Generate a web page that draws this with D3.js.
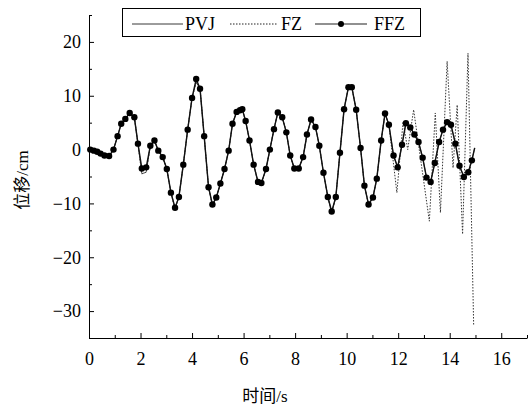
<!DOCTYPE html>
<html>
<head>
<meta charset="utf-8">
<script src="https://cdn.jsdelivr.net/npm/d3@7"></script>
<style>
  body { margin: 0; background: #fff; }
  svg text { font-family: "Liberation Serif", serif; fill: #000; }
  svg tspan.cjk { font-family: "Noto Sans CJK SC", sans-serif; }
</style>
</head>
<body>
<div id="chart"></div>
<script>
// data (time in s, displacement in cm)
var ffzTime = [0.05, 0.19, 0.32, 0.45, 0.6, 0.78, 0.95, 1.11, 1.25, 1.41, 1.58, 1.76, 1.9, 2.05, 2.22,
  2.38, 2.54, 2.69, 2.86, 3.02, 3.18, 3.34, 3.49, 3.66, 3.83, 4.0, 4.16, 4.31, 4.47, 4.64, 4.79, 4.94,
  5.1, 5.26, 5.42, 5.57, 5.73, 5.86, 5.95, 6.08, 6.23, 6.39, 6.56, 6.69, 6.87, 7.02, 7.18, 7.33, 7.5,
  7.66, 7.81, 7.97, 8.14, 8.31, 8.46, 8.62, 8.79, 8.94, 9.1, 9.27, 9.42, 9.58, 9.74, 9.9, 10.07, 10.2,
  10.37, 10.54, 10.69, 10.85, 11.02, 11.17, 11.34, 11.49, 11.64, 11.82, 11.98, 12.15, 12.3, 12.47,
  12.63, 12.79, 12.95, 13.1, 13.26, 13.42, 13.59, 13.74, 13.9, 14.05, 14.22, 14.38, 14.55, 14.72, 14.86];

var ffzValue = [0.0, -0.2, -0.4, -0.75, -1.1, -1.2, 0.0, 2.5, 4.8, 5.7, 6.8, 6.0, 1.1, -3.5, -3.3,
  0.7, 1.7, -0.2, -1.4, -3.6, -8.0, -10.8, -8.8, -2.8, 3.7, 9.6, 13.1, 11.3, 2.5, -7.0, -10.2, -8.9,
  -6.3, -3.6, -0.2, 4.8, 7.0, 7.3, 7.5, 5.3, 1.7, -2.8, -6.0, -6.2, -3.6, 0.0, 3.8, 6.9, 6.0,
  3.2, -1.1, -3.5, -3.5, -1.4, 2.8, 5.6, 4.2, 0.7, -4.3, -8.8, -11.5, -8.8, -0.6, 7.5, 11.6, 11.6,
  7.4, 0.3, -6.7, -10.2, -8.9, -5.4, 1.7, 6.7, 4.6, -1.1, -3.3, 0.9, 4.9, 4.1,
  2.8, 1.4, -1.5, -5.2, -6.0, -2.5, 1.4, 3.7, 5.1, 4.6, 1.1, -3.0, -5.1, -4.2, -2.0];

// last bit of the FFZ line after the final marker
var ffzEndTime = [14.97];
var ffzEndValue = [0.3];

// PVJ runs under FFZ almost everywhere (same sample times)
var pvjValue = [0.0, -0.2, -0.4, -0.75, -1.1, -1.2, 0.0, 2.5, 4.8, 5.7, 6.8, 6.0, 1.1, -4.5, -4.2,
  0.7, 1.7, -0.2, -1.4, -3.6, -8.0, -11.0, -8.8, -2.8, 3.7, 9.6, 12.5, 11.3, 2.5, -7.0, -10.4, -8.9,
  -6.3, -3.6, -0.2, 4.8, 7.0, 7.3, 7.5, 5.3, 1.7, -2.8, -6.0, -6.2, -3.6, 0.0, 3.8, 6.9, 6.0,
  3.2, -1.1, -3.5, -3.5, -1.4, 2.8, 5.6, 4.2, 0.7, -4.3, -8.8, -11.8, -8.8, -0.6, 7.5, 11.6, 11.6,
  7.4, 0.3, -6.7, -10.2, -8.9, -5.4, 1.7, 6.7, 4.6, -1.1, -3.3, 0.9, 4.9, 4.1,
  2.8, 1.4, -1.5, -5.2, -6.0, -2.5, 1.4, 3.7, 5.1, 4.6, 1.1, -3.0, -5.1, -4.2, -2.0];

// FZ follows PVJ up to ~11.6 s, then swings wildly
var fzSplit = 11.64;
var fzTailTime = [11.95, 12.19, 12.37, 12.6, 13.21, 13.44, 13.64, 13.9, 14.13, 14.29, 14.5, 14.71, 14.93];
var fzTailValue = [-8.0, 5.2, 0.0, 7.4, -13.3, 6.8, -11.7, 16.4, -3.4, 8.3, -15.7, 17.9, -32.7];

var xTicks = [0, 2, 4, 6, 8, 10, 12, 14, 16];
var yTicks = [-30, -20, -10, 0, 10, 20];
var xMinor = [1, 3, 5, 7, 9, 11, 13, 15, 17];
var yMinor = [-35, -25, -15, -5, 5, 15, 25];

var seriesNames = ["PVJ", "FZ", "FFZ"];

// setting up SVG
var svgWidth = 529;
var svgHeight = 408;

var plotLeft = 89, plotRight = 527, plotTop = 15, plotBottom = 338;

var svg = d3.select("#chart")
  .append("svg")
  .attr("width", svgWidth)
  .attr("height", svgHeight);

var xScale = d3.scaleLinear().domain([0, 17]).range([plotLeft, plotRight]);
var yScale = d3.scaleLinear().domain([-35, 25]).range([plotBottom, plotTop]);

var fmt = function(d) { return d < 0 ? "\u2212" + Math.abs(d) : String(d); };

// x axis, ticks pointing inward
svg.append("g")
  .attr("transform", `translate(0, ${plotBottom})`)
  .call(d3.axisBottom(xScale).tickValues(xTicks).tickSizeInner(-5).tickSizeOuter(0)
    .tickPadding(14).tickFormat(fmt));

svg.append("g")
  .attr("transform", `translate(0, ${plotBottom})`)
  .call(d3.axisBottom(xScale).tickValues(xMinor).tickSizeInner(-3).tickSizeOuter(0).tickFormat(""))
  .select(".domain").remove();

// y axis
svg.append("g")
  .attr("transform", `translate(${plotLeft}, 0)`)
  .call(d3.axisLeft(yScale).tickValues(yTicks).tickSizeInner(-5).tickSizeOuter(0)
    .tickPadding(8).tickFormat(fmt));

svg.append("g")
  .attr("transform", `translate(${plotLeft}, 0)`)
  .call(d3.axisLeft(yScale).tickValues(yMinor).tickSizeInner(-3).tickSizeOuter(0).tickFormat(""))
  .select(".domain").remove();

svg.selectAll(".tick text")
  .style("font-size", "18px")
  .style("font-family", "'Liberation Serif', serif");
svg.selectAll(".domain, .tick line").attr("stroke", "#000");

// axis titles: CJK part and latin part in separate tspans
var xTitle = svg.append("text")
  .attr("x", 265)
  .attr("y", 402)
  .attr("text-anchor", "middle")
  .style("font-size", "17px");
xTitle.append("tspan").attr("class", "cjk").text("时间");
xTitle.append("tspan").text("/s");

var yTitle = svg.append("text")
  .attr("transform", "translate(28, 180) rotate(-90)")
  .attr("text-anchor", "middle")
  .style("font-size", "17px");
yTitle.append("tspan").attr("class", "cjk").text("位移");
yTitle.append("tspan").text("/cm");

// build point lists
var ffzData = ffzTime.map((t, i) => ({ t: t, v: ffzValue[i] }));
var ffzLineData = ffzData.concat(ffzEndTime.map((t, i) => ({ t: t, v: ffzEndValue[i] })));
var pvjData = ffzTime.map((t, i) => ({ t: t, v: pvjValue[i] }))
  .concat(ffzEndTime.map((t, i) => ({ t: t, v: ffzEndValue[i] })));
var fzData = pvjData.filter(d => d.t <= fzSplit)
  .concat(fzTailTime.map((t, i) => ({ t: t, v: fzTailValue[i] })));

var line = d3.line()
  .x(d => xScale(d.t))
  .y(d => yScale(d.v));

svg.append("path")
  .datum(fzData)
  .attr("fill", "none")
  .attr("stroke", "#333")
  .attr("stroke-width", 1)
  .attr("stroke-dasharray", "1.5,1.5")
  .attr("d", line);

svg.append("path")
  .datum(pvjData)
  .attr("fill", "none")
  .attr("stroke", "#444")
  .attr("stroke-width", 0.8)
  .attr("d", line);

svg.append("path")
  .datum(ffzLineData)
  .attr("fill", "none")
  .attr("stroke", "#111")
  .attr("stroke-width", 1.4)
  .attr("d", line);

svg.append("g")
  .selectAll("circle")
  .data(ffzData)
  .enter()
  .append("circle")
  .attr("cx", d => xScale(d.t))
  .attr("cy", d => yScale(d.v))
  .attr("r", 3.2)
  .attr("fill", "#000");

// legend
var legend = svg.append("g");

legend.append("rect")
  .attr("x", 122.5)
  .attr("y", 8.5)
  .attr("width", 298)
  .attr("height", 28)
  .attr("fill", "#fff")
  .attr("stroke", "#000");

var legendItems = [
  { x1: 132, x2: 183, tx: 185, dash: null, w: 0.9, dot: false },
  { x1: 230, x2: 277, tx: 281, dash: "1.5,1.5", w: 1, dot: false },
  { x1: 315, x2: 367, tx: 374, dash: null, w: 1.2, dot: true }
];

legendItems.forEach(function(it, i) {
  legend.append("line")
    .attr("x1", it.x1).attr("x2", it.x2)
    .attr("y1", 24).attr("y2", 24)
    .attr("stroke", "#222")
    .attr("stroke-width", it.w)
    .attr("stroke-dasharray", it.dash);
  if (it.dot) {
    legend.append("circle")
      .attr("cx", (it.x1 + it.x2) / 2)
      .attr("cy", 24)
      .attr("r", 3)
      .attr("fill", "#000");
  }
  legend.append("text")
    .attr("x", it.tx)
    .attr("y", 30)
    .style("font-size", "18px")
    .text(seriesNames[i]);
});
</script>
</body>
</html>
